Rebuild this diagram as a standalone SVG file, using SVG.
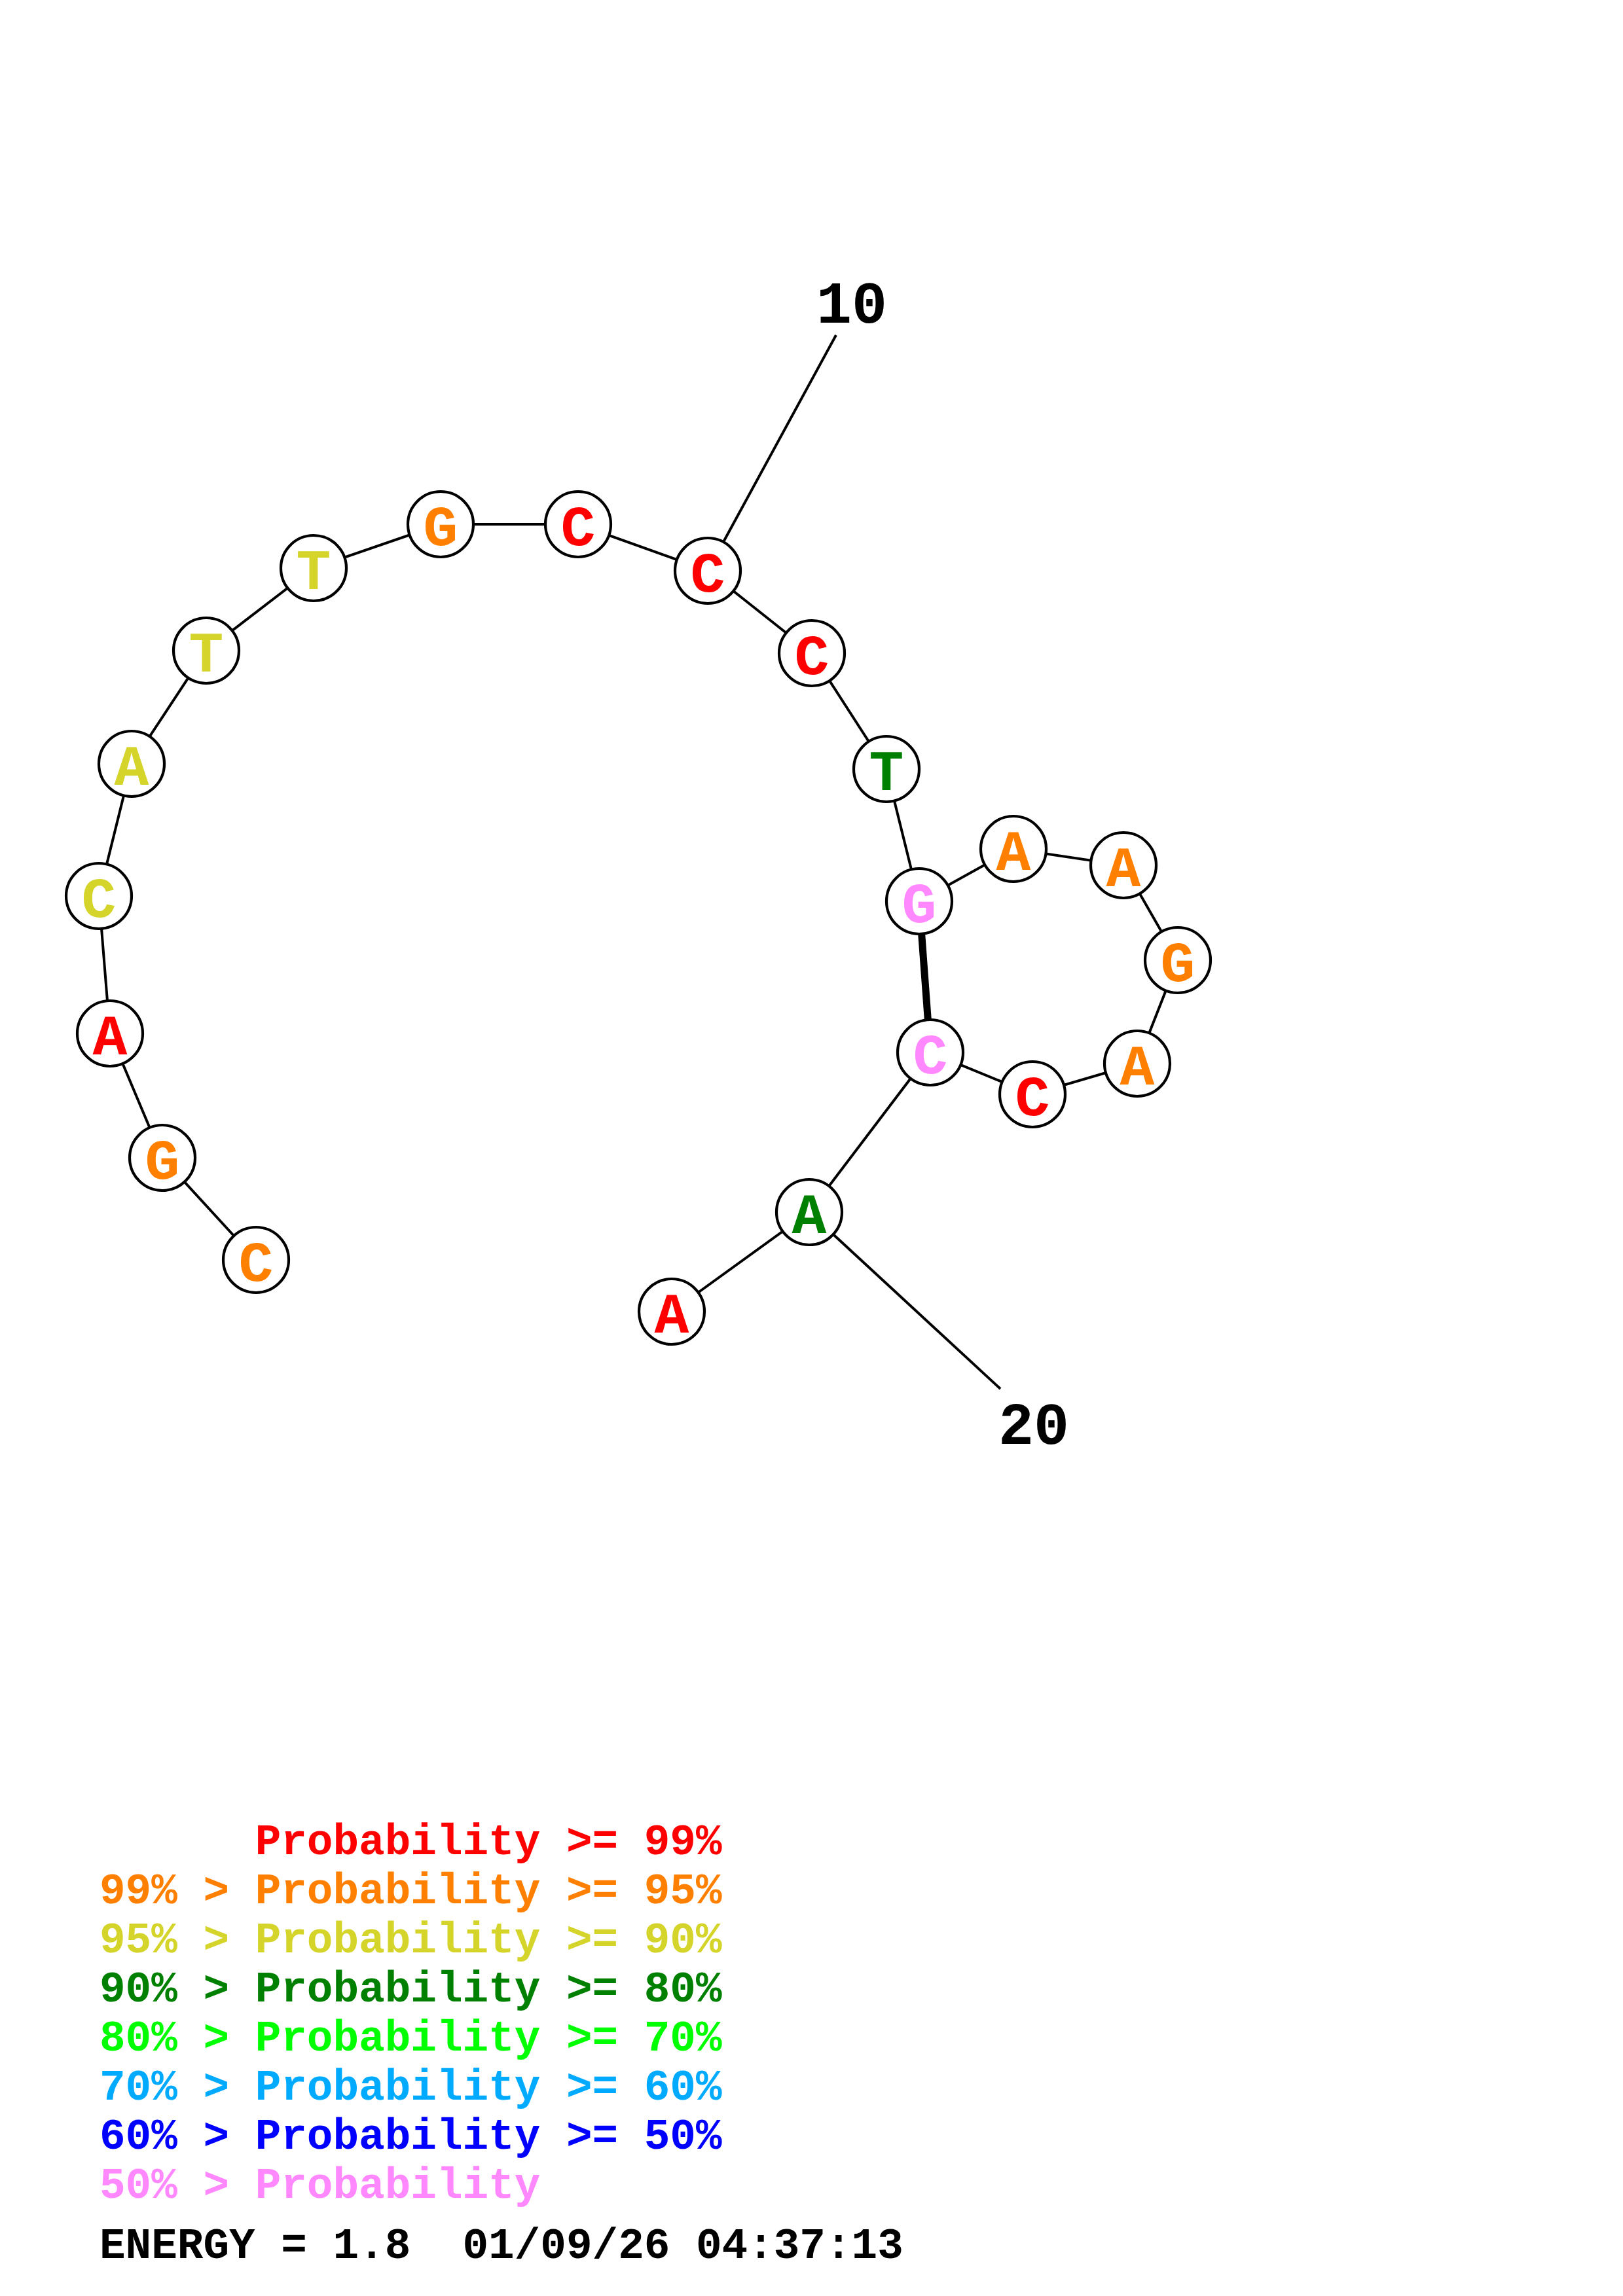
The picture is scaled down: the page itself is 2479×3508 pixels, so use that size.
<svg xmlns="http://www.w3.org/2000/svg" width="2479" height="3508" viewBox="0 0 2479 3508">
<style>
.bb{stroke:#000;stroke-width:4;fill:none}
.pair{stroke:#000;stroke-width:11;fill:none}
.nc{fill:#fff;stroke:#000;stroke-width:4.2}
.nt{font-family:"Liberation Mono","DejaVu Sans Mono",monospace;font-weight:bold;font-size:88px;text-anchor:middle}
.lb{font-family:"Liberation Mono","DejaVu Sans Mono",monospace;font-weight:bold;font-size:90px;text-anchor:middle;fill:#000}
.lg{font-family:"Liberation Mono","DejaVu Sans Mono",monospace;font-weight:bold;font-size:66px;white-space:pre}
.red{fill:#FF0000}.org{fill:#FF8000}.yel{fill:#D4D42A}.dgr{fill:#008000}.grn{fill:#00FF00}.lbl{fill:#00AAFF}.blu{fill:#0000FF}.pnk{fill:#FF88FF}.blk{fill:#000}
</style>
<g id="connectors">
<polyline class="bb" points="391,1925 248,1769 168,1579 151,1369 201,1167 315,994 479,868 673,801 883,801 1081,872 1240,998 1354,1175 1404,1377 1548,1297 1716,1322 1799,1467 1737,1625 1577,1672 1421,1608 1236,1852 1026,2004"/>
<line class="pair" x1="1404" y1="1377" x2="1421" y2="1608"/>
<line class="bb" x1="1081" y1="872" x2="1277" y2="512"/>
<line class="bb" x1="1236" y1="1852" x2="1528" y2="2122"/>
</g>
<g id="n1"><circle class="nc" cx="391" cy="1925" r="50"/><text class="nt org" x="391" y="1957">C</text></g>
<g id="n2"><circle class="nc" cx="248" cy="1769" r="50"/><text class="nt org" x="248" y="1801">G</text></g>
<g id="n3"><circle class="nc" cx="168" cy="1579" r="50"/><text class="nt red" x="168" y="1611">A</text></g>
<g id="n4"><circle class="nc" cx="151" cy="1369" r="50"/><text class="nt yel" x="151" y="1401">C</text></g>
<g id="n5"><circle class="nc" cx="201" cy="1167" r="50"/><text class="nt yel" x="201" y="1199">A</text></g>
<g id="n6"><circle class="nc" cx="315" cy="994" r="50"/><text class="nt yel" x="315" y="1026">T</text></g>
<g id="n7"><circle class="nc" cx="479" cy="868" r="50"/><text class="nt yel" x="479" y="900">T</text></g>
<g id="n8"><circle class="nc" cx="673" cy="801" r="50"/><text class="nt org" x="673" y="833">G</text></g>
<g id="n9"><circle class="nc" cx="883" cy="801" r="50"/><text class="nt red" x="883" y="833">C</text></g>
<g id="n10"><circle class="nc" cx="1081" cy="872" r="50"/><text class="nt red" x="1081" y="904">C</text></g>
<g id="n11"><circle class="nc" cx="1240" cy="998" r="50"/><text class="nt red" x="1240" y="1030">C</text></g>
<g id="n12"><circle class="nc" cx="1354" cy="1175" r="50"/><text class="nt dgr" x="1354" y="1207">T</text></g>
<g id="n13"><circle class="nc" cx="1404" cy="1377" r="50"/><text class="nt pnk" x="1404" y="1409">G</text></g>
<g id="n14"><circle class="nc" cx="1548" cy="1297" r="50"/><text class="nt org" x="1548" y="1329">A</text></g>
<g id="n15"><circle class="nc" cx="1716" cy="1322" r="50"/><text class="nt org" x="1716" y="1354">A</text></g>
<g id="n16"><circle class="nc" cx="1799" cy="1467" r="50"/><text class="nt org" x="1799" y="1499">G</text></g>
<g id="n17"><circle class="nc" cx="1737" cy="1625" r="50"/><text class="nt org" x="1737" y="1657">A</text></g>
<g id="n18"><circle class="nc" cx="1577" cy="1672" r="50"/><text class="nt red" x="1577" y="1704">C</text></g>
<g id="n19"><circle class="nc" cx="1421" cy="1608" r="50"/><text class="nt pnk" x="1421" y="1640">C</text></g>
<g id="n20"><circle class="nc" cx="1236" cy="1852" r="50"/><text class="nt dgr" x="1236" y="1884">A</text></g>
<g id="n21"><circle class="nc" cx="1026" cy="2004" r="50"/><text class="nt red" x="1026" y="2036">A</text></g>
<g id="labels">
<text class="lb" x="1301" y="493">10</text>
<text class="lb" x="1579" y="2206">20</text>
</g>
<g id="legend">
<text class="lg red" x="152" y="2833">      Probability &gt;= 99%</text>
<text class="lg org" x="152" y="2908">99% &gt; Probability &gt;= 95%</text>
<text class="lg yel" x="152" y="2983">95% &gt; Probability &gt;= 90%</text>
<text class="lg dgr" x="152" y="3058">90% &gt; Probability &gt;= 80%</text>
<text class="lg grn" x="152" y="3133">80% &gt; Probability &gt;= 70%</text>
<text class="lg lbl" x="152" y="3208">70% &gt; Probability &gt;= 60%</text>
<text class="lg blu" x="152" y="3283">60% &gt; Probability &gt;= 50%</text>
<text class="lg pnk" x="152" y="3358">50% &gt; Probability</text>
<text class="lg blk" x="152" y="3450">ENERGY = 1.8  01/09/26 04:37:13</text>
</g>
</svg>
